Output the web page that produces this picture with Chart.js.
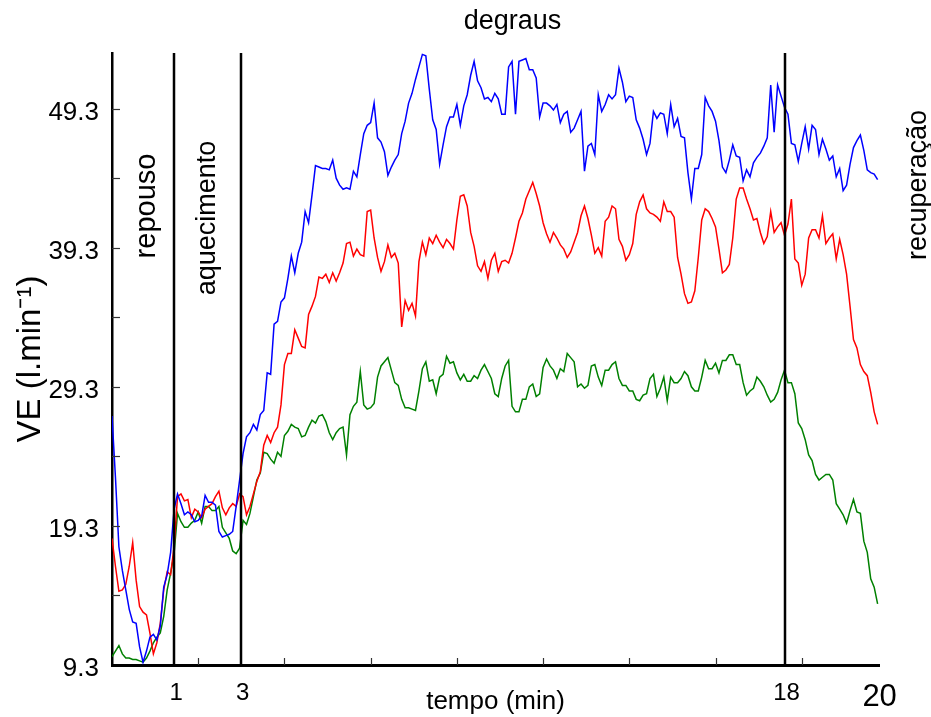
<!DOCTYPE html>
<html>
<head>
<meta charset="utf-8">
<script src="https://cdn.jsdelivr.net/npm/chart.js@4.4.0/dist/chart.umd.min.js"></script>
<style>
  html, body { margin: 0; padding: 0; background: #fff; }
  #wrap { width: 931px; height: 717px; }
</style>
</head>
<body>
<div id="wrap"><canvas id="grafico" width="931" height="717"></canvas></div>
<script>
// VE (l/min) por amostra
const veAzul = [
  27.2, 22.8, 17.8, 16.1, 14.7, 13.3, 12.4, 12.3, 10.6, 9.5, 10.3, 11.3, 11.5, 11.1, 12.1, 14.9, 15.8, 17.4, 20.5,
  21.6, 20.9, 20.1, 20.3, 20.1, 19.6, 19.7, 20.0, 21.5, 21.0, 21.0, 20.8, 18.9, 18.5, 18.6, 18.7, 18.9, 20.7, 22.6,
  24.5, 25.7, 26.0, 26.6, 26.2, 27.3, 27.6, 30.3, 30.2, 33.8, 34.0, 35.4, 35.7, 37.1, 38.7, 37.5, 38.9, 39.7, 41.9,
  41.1, 43.1, 45.2, 45.1, 45.0, 45.0, 44.9, 45.6, 44.3, 43.8, 43.5, 43.6, 43.5, 44.8, 44.4, 46.0, 47.5,
  48.1, 48.3, 49.7, 47.2, 46.9, 46.2, 44.5, 45.1, 45.6, 46.0, 47.5, 48.4, 49.7, 50.4, 51.4, 52.3, 53.2, 53.1,
  50.7, 48.5, 47.8, 45.3, 46.7, 48.0, 48.7, 48.7, 49.6, 48.1, 49.5, 50.3, 51.7, 52.7, 51.3, 50.8, 50.0, 50.1,
  49.8, 50.4, 50.0, 48.9, 48.9, 52.3, 52.7, 48.9, 52.7, 52.8, 52.9, 52.1, 52.1, 51.5, 48.7, 49.7, 49.7, 49.5,
  49.2, 49.6, 48.3, 48.9, 49.1, 47.6, 47.9, 48.5, 49.1, 44.8, 46.6, 46.8, 46.0, 50.3, 49.1, 49.6, 50.3, 50.0,
  50.3, 52.2, 51.2, 49.8, 50.2, 50.1, 48.5, 47.9, 47.1, 46.0, 46.8, 49.1, 48.6, 49.0, 48.9, 47.5, 49.6, 48.0,
  48.6, 47.3, 47.2, 44.7, 42.8, 45.0, 45.0, 46.0, 50.1, 49.5, 49.1, 48.4, 47.0, 45.1, 44.7, 45.6, 46.7, 45.9,
  45.8, 44.1, 44.9, 44.4, 45.4, 45.8, 46.1, 46.6, 47.2, 51.0, 47.6, 51.0, 50.2, 49.4, 48.9, 46.8, 46.7, 45.5,
  46.8, 48.0, 46.4, 48.1, 47.8, 46.0, 47.1, 46.4, 45.6, 45.9, 44.4, 45.0, 43.4, 43.8, 45.3, 46.5, 47.0, 47.4,
  46.3, 44.9, 44.7, 44.6, 44.2
];
const veVermelho = [
  18.4, 16.4, 14.6, 14.7, 15.1, 16.4, 18.1, 15.4, 13.5, 13.1, 12.9, 11.6, 10.1, 10.9, 12.3, 14.7, 16.0, 15.8, 17.8,
  21.4, 21.6, 21.1, 21.2, 19.9, 20.5, 20.3, 19.9, 20.5, 20.7, 20.9, 21.4, 21.8, 20.6, 20.1, 20.6, 20.9, 20.7, 21.6,
  21.4, 20.1, 20.7, 21.6, 22.5, 23.2, 25.1, 25.8, 25.3, 26.0, 26.4, 28.0, 30.9, 31.7, 31.7, 33.4, 32.8, 32.2, 32.1,
  34.5, 35.1, 35.8, 37.2, 37.1, 37.4, 36.8, 37.5, 36.9, 37.5, 38.2, 39.6, 39.7, 38.7, 39.2, 38.8, 38.7,
  41.9, 42.0, 40.0, 38.6, 37.6, 38.3, 39.5, 38.6, 38.9, 38.2, 33.6, 35.5, 34.8, 35.3, 34.4, 38.3, 39.7, 38.8,
  40.0, 39.6, 40.2, 39.7, 39.3, 39.9, 39.6, 39.2, 41.3, 43.0, 43.1, 42.3, 40.4, 39.4, 38.0, 37.6, 38.3, 37.1,
  38.4, 38.9, 37.6, 38.3, 38.4, 38.2, 38.9, 40.0, 41.2, 41.8, 42.8, 43.4, 44.0, 43.2, 42.3, 41.1, 40.3, 39.7,
  40.4, 40.0, 39.5, 39.2, 38.6, 39.0, 39.7, 40.4, 41.6, 42.3, 41.4, 40.2, 38.9, 39.3, 38.7, 41.2, 41.5, 42.3,
  42.1, 39.9, 39.4, 38.4, 38.8, 39.6, 41.7, 42.6, 43.1, 42.1, 41.8, 41.7, 41.5, 41.2, 42.6, 41.9, 41.9, 41.5,
  38.6, 37.4, 36.0, 35.3, 35.4, 36.2, 38.6, 41.3, 42.1, 41.9, 41.4, 40.8, 39.2, 37.5, 37.7, 38.1, 40.0, 42.8,
  43.6, 43.6, 42.8, 42.1, 41.3, 41.4, 40.4, 39.6, 40.1, 41.9, 40.4, 40.8, 41.1, 40.2, 41.0, 42.8, 38.5, 38.2,
  36.6, 37.4, 40.0, 40.6, 40.6, 40.0, 41.6, 39.6, 40.0, 40.3, 38.5, 39.9, 38.8, 37.4, 35.1, 32.7, 32.1, 30.9,
  30.4, 30.1, 28.9, 27.5, 26.6
];
const veVerde = [
  9.9, 10.3, 10.7, 10.1, 9.8, 9.8, 9.7, 9.7, 9.6, 9.5, 9.8, 10.3, 10.9, 11.3, 11.6, 12.8, 14.7, 15.9, 17.3,
  20.2, 19.6, 19.2, 19.2, 19.5, 19.7, 20.3, 19.5, 20.7, 20.7, 20.4, 20.4, 20.7, 19.2, 18.8, 18.4, 17.5, 17.3, 17.7,
  19.7, 19.4, 20.2, 21.4, 22.6, 23.1, 24.6, 24.5, 24.1, 23.8, 24.6, 24.3, 25.8, 26.1, 26.6, 26.4, 26.3, 25.7, 25.8,
  26.4, 26.9, 26.7, 27.2, 27.3, 26.8, 26.0, 25.5, 26.0, 26.3, 26.4, 24.4, 27.3, 27.9, 28.2, 30.4, 28.0,
  27.7, 27.8, 28.1, 30.0, 30.8, 31.1, 31.4, 30.5, 29.6, 29.4, 28.4, 27.8, 27.8, 27.7, 27.6, 29.0, 30.6, 31.1,
  29.7, 29.8, 28.8, 30.0, 30.2, 31.5, 31.0, 31.1, 30.3, 29.8, 30.2, 29.7, 29.7, 30.1, 29.9, 30.5, 30.9, 30.4,
  29.9, 28.8, 28.6, 29.9, 30.8, 31.2, 27.9, 27.5, 27.5, 28.4, 28.4, 29.3, 29.5, 28.6, 28.8, 30.7, 31.3, 30.8,
  30.5, 29.9, 30.6, 30.4, 31.7, 31.4, 31.1, 29.3, 29.5, 29.2, 29.4, 30.8, 30.9, 30.0, 29.4, 30.5, 30.5, 30.9,
  31.1, 29.9, 29.4, 29.4, 29.0, 29.0, 28.4, 28.3, 28.7, 28.8, 29.9, 30.2, 28.6, 29.2, 30.0, 28.3, 30.0, 29.6,
  29.6, 29.9, 30.4, 30.1, 29.3, 29.0, 29.0, 30.0, 31.2, 30.6, 30.6, 31.0, 30.3, 31.2, 31.2, 31.6, 31.6, 30.9,
  30.9, 29.6, 28.7, 29.0, 29.2, 30.0, 29.7, 29.3, 28.7, 28.2, 28.4, 28.9, 29.8, 30.5, 29.6, 29.6, 28.8, 26.7,
  26.3, 25.5, 24.4, 24.0, 23.0, 22.6, 22.8, 23.0, 23.0, 22.6, 20.9, 20.5, 20.1, 19.5, 20.4, 21.2, 20.3, 20.2,
  18.2, 17.4, 15.5, 14.9, 13.7
];

// limites das fases (em amostras) e rotulos do eixo x
const fases = [18, 37.3, 195, 222];
const faseLabels = ['1', '3', '18', '20'];
const xMinor = [25, 50, 75, 100, 125, 150, 175, 200];
const yTicks = [9.3, 14.3, 19.3, 24.3, 29.3, 34.3, 39.3, 44.3, 49.3];
const yLabels = ['9.3', '', '19.3', '', '29.3', '', '39.3', '', '49.3'];

const FONTE = '"Liberation Sans", Arial, sans-serif';

function pontos(arr) {
    return arr.map((v, i) => ({ x: i, y: v }));
}

function textoVertical(ctx, txt, px, py) {
    ctx.save();
    ctx.translate(px, py);
    ctx.rotate(-Math.PI / 2);
    ctx.fillText(txt, 0, 0);
    ctx.restore();
}

const fasesPlugin = {
    id: 'fases',
    afterDatasetsDraw(chart) {
        const { ctx, chartArea: a, scales: { x, y } } = chart;
        ctx.save();

        // linhas verticais das fases
        ctx.strokeStyle = '#000';
        ctx.lineWidth = 2.5;
        fases.slice(0, 3).forEach(f => {
            const px = Math.round(x.getPixelForValue(f));
            ctx.beginPath();
            ctx.moveTo(px, a.top);
            ctx.lineTo(px, a.bottom);
            ctx.stroke();
        });

        // tracinhos para dentro
        ctx.strokeStyle = '#333';
        ctx.lineWidth = 1.2;
        xMinor.forEach(v => {
            const px = Math.round(x.getPixelForValue(v)) + 0.5;
            ctx.beginPath();
            ctx.moveTo(px, a.bottom);
            ctx.lineTo(px, a.bottom - 7);
            ctx.stroke();
        });
        yTicks.slice(1).forEach(v => {
            const py = Math.round(y.getPixelForValue(v)) + 0.5;
            ctx.beginPath();
            ctx.moveTo(a.left, py);
            ctx.lineTo(a.left + 8, py);
            ctx.stroke();
        });

        // nomes das fases
        ctx.fillStyle = '#000';
        ctx.font = '27px ' + FONTE;
        ctx.textAlign = 'center';
        ctx.textBaseline = 'middle';
        const p0 = x.getPixelForValue(fases[0]);
        const p1 = x.getPixelForValue(fases[1]);
        const p2 = x.getPixelForValue(fases[2]);
        ctx.fillText('degraus', (p1 + p2) / 2, 22);
        ctx.font = '29px ' + FONTE;
        textoVertical(ctx, 'repouso', (a.left + p0) / 2 + 4, 206);
        ctx.font = '27px ' + FONTE;
        textoVertical(ctx, 'aquecimento', (p0 + p1) / 2, 218);
        textoVertical(ctx, 'recuperação', a.right + 40, 185);

        ctx.restore();
    }
};

Chart.defaults.font.family = FONTE;
Chart.defaults.color = '#000';

new Chart(document.getElementById('grafico'), {
    type: 'line',
    data: {
        datasets: [
            { label: 'azul', data: pontos(veAzul), borderColor: '#0000ff' },
            { label: 'vermelho', data: pontos(veVermelho), borderColor: '#ff0000' },
            { label: 'verde', data: pontos(veVerde), borderColor: '#008000' }
        ]
    },
    options: {
        responsive: false,
        animation: false,
        layout: { padding: { top: 53, right: 52, left: 0, bottom: 0 } },
        elements: {
            line: { borderWidth: 1.5, tension: 0, fill: false },
            point: { radius: 0 }
        },
        plugins: {
            legend: { display: false },
            tooltip: { enabled: false }
        },
        scales: {
            x: {
                type: 'linear',
                min: 0,
                max: 222.4,
                afterFit: s => { s.height = 52; },
                afterBuildTicks: s => { s.ticks = fases.map(v => ({ value: v })); },
                grid: { display: false },
                border: { color: '#000', width: 3 },
                ticks: {
                    autoSkip: false,
                    maxRotation: 0,
                    padding: 6,
                    labelOffset: 2,
                    font: c => ({ size: c.index === 3 ? 31 : 24 }),
                    callback: (v, i) => faseLabels[i]
                },
                title: {
                    display: true,
                    text: 'tempo (min)',
                    font: { size: 26 },
                    padding: { top: 0, bottom: 0 }
                }
            },
            y: {
                min: 9.3,
                max: 53.3,
                afterFit: s => { s.width = 112; },
                afterBuildTicks: s => { s.ticks = yTicks.map(v => ({ value: v })); },
                grid: { display: false },
                border: { color: '#000', width: 2.5 },
                ticks: {
                    padding: 5,
                    labelOffset: 4,
                    font: { size: 26 },
                    callback: (v, i) => yLabels[i]
                },
                title: {
                    display: true,
                    text: 'VE (l.min⁻¹)',
                    font: { size: 33 },
                    padding: { top: 11, bottom: 0 }
                }
            }
        }
    },
    plugins: [fasesPlugin]
});
</script>
</body>
</html>
